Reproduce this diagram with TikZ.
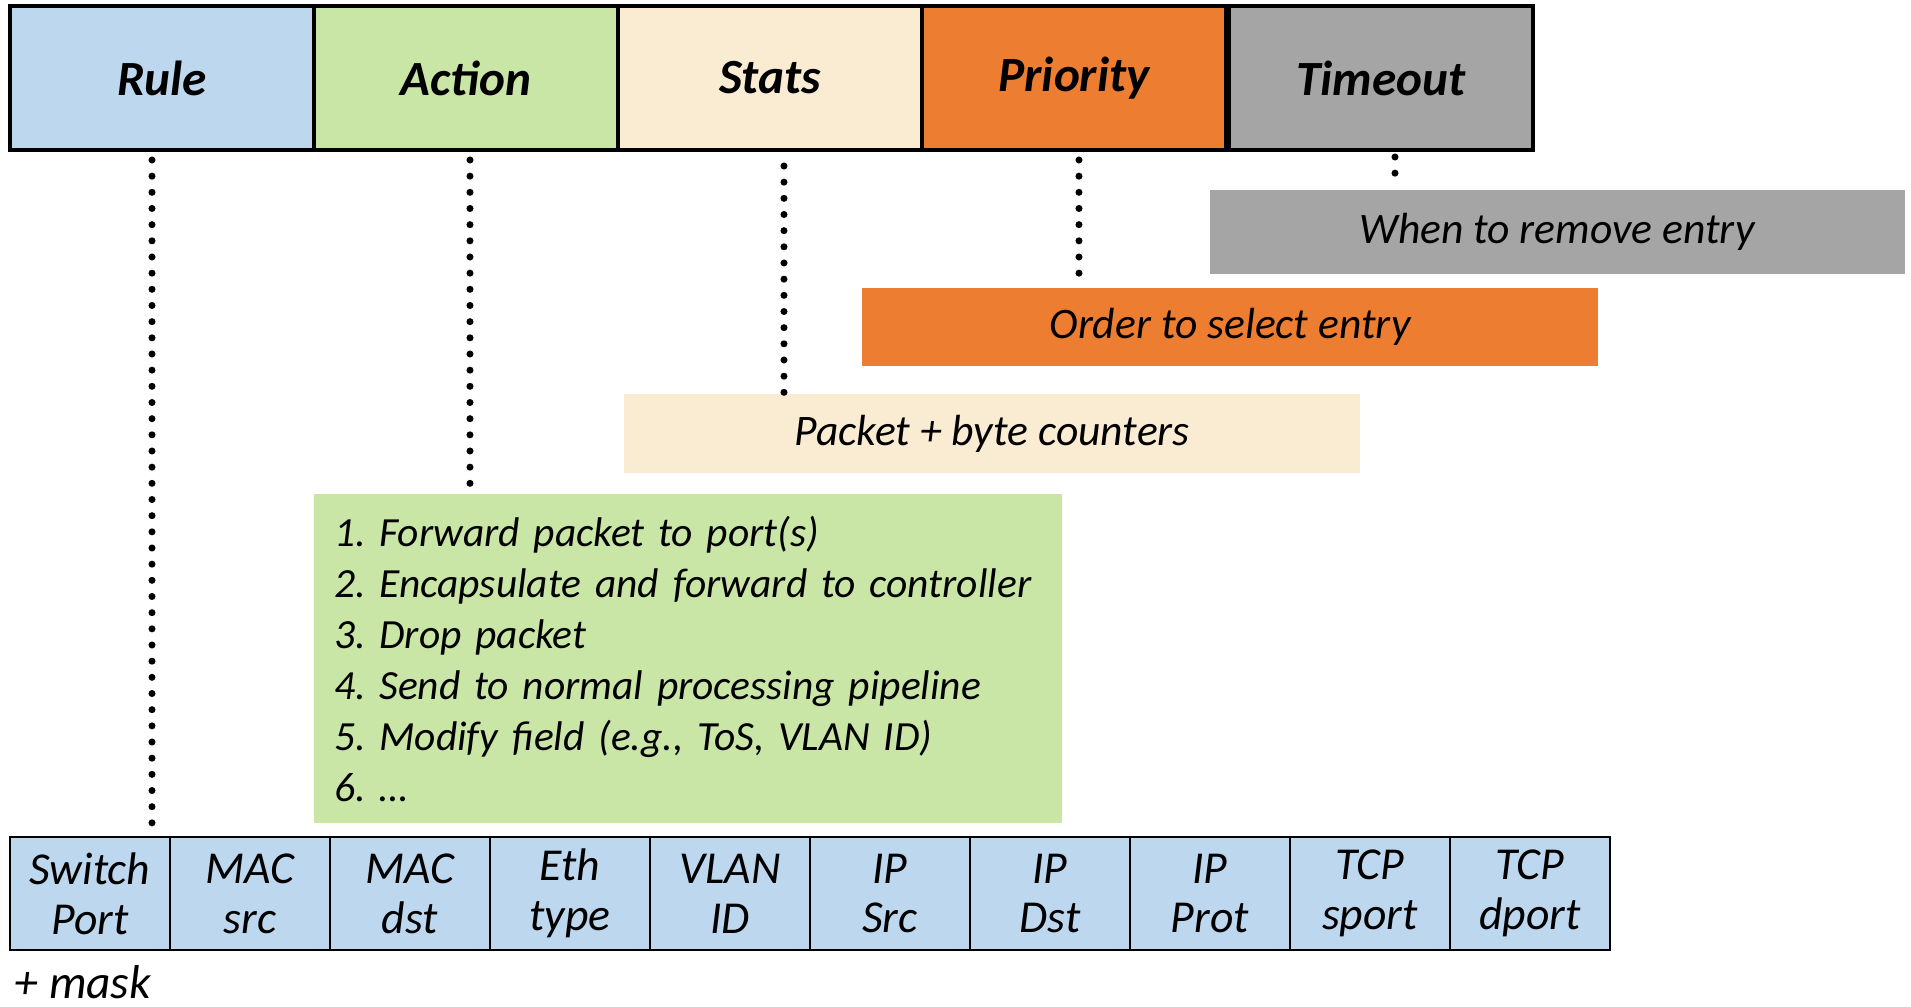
\documentclass[tikz,border=0pt]{standalone}
\usepackage{fontspec}
\setmainfont{Carlito}
\usetikzlibrary{positioning}

\definecolor{ruleblue}{HTML}{BDD7EE}
\definecolor{actgreen}{HTML}{C9E6A7}
\definecolor{statbeige}{HTML}{FAEBD3}
\definecolor{prioorange}{HTML}{ED7D31}
\definecolor{timegray}{HTML}{A5A5A5}

\begin{document}
\frenchspacing
\begin{tikzpicture}[
        x=0.1mm,y=-0.1mm,
        head/.style={rectangle,draw,line width=1pt,outer sep=0pt,minimum width=30.4mm,minimum height=14.4mm,inner sep=0pt,font=\fontsize{14}{17}\selectfont\bfseries\itshape},
        desc/.style={rectangle,inner sep=0pt,font=\fontsize{12.4}{15}\selectfont\itshape},
        field/.style={rectangle,draw,line width=0.8pt,outer sep=0pt,fill=ruleblue,minimum width=16mm,minimum height=11.3mm,inner sep=0pt,align=center,font=\fontsize{13}{14.2}\selectfont\itshape},
        dots/.style={line width=2pt,line cap=round,dash pattern=on 0pt off 4.6pt}
    ]
    \useasboundingbox (0,0) rectangle (1911,1007);

    % flow table entry
    \node[head,fill=ruleblue,anchor=north west] (rule) at (10,6) {Rule};
    \node[head,fill=actgreen,right=0pt of rule] (action) {Action};
    \node[head,fill=statbeige,right=0pt of action] (stats) {Stats};
    \node[head,fill=prioorange,right=0pt of stats] (priority) {Priority};
    \node[head,fill=timegray,right=0.3mm of priority] (timeout) {Timeout};

    % what each part means
    \node[desc,fill=timegray,minimum width=69.5mm,minimum height=8.4mm] (timeoutdesc) at (1557,232) {When to remove entry};
    \node[desc,fill=prioorange,minimum width=73.6mm,minimum height=7.8mm] (prioritydesc) at (1230,327) {Order to select entry};
    \node[desc,fill=statbeige,minimum width=73.6mm,minimum height=7.9mm] (statsdesc) at (992,434) {Packet + byte counters};
    \node[desc,fill=actgreen,inner xsep=2mm,minimum width=74.8mm,minimum height=32.9mm,text width=70.8mm,align=left,
          font=\fontsize{11.8}{14.5}\selectfont\itshape] (actlist) at (688,659) {1. Forward packet to port(s)\\2. Encapsulate and forward to controller\\3. Drop packet\\4. Send to normal processing pipeline\\5. Modify field (e.g., ToS, VLAN ID)\\6. \ldots};

    % header fields matched by the rule
    \node[field,anchor=north west] (swport) at (10,837) {Switch\\Port};
    \node[field,right=0pt of swport] (macsrc) {MAC\\src};
    \node[field,right=0pt of macsrc] (macdst) {MAC\\dst};
    \node[field,right=0pt of macdst] (ethtype) {Eth\\type};
    \node[field,right=0pt of ethtype] (vlanid) {VLAN\\ID};
    \node[field,right=0pt of vlanid] (ipsrc) {IP\\Src};
    \node[field,right=0pt of ipsrc] (ipdst) {IP\\Dst};
    \node[field,right=0pt of ipdst] (ipprot) {IP\\Prot};
    \node[field,right=0pt of ipprot] (tcpsport) {TCP\\sport};
    \node[field,right=0pt of tcpsport] (tcpdport) {TCP\\dport};
    \node[desc,anchor=west,font=\fontsize{13.5}{16}\selectfont\itshape] (mask) at (14,982) {+ mask};

    \draw[dots,shorten <=1mm] ([xshift=-1mm]rule.south) -- ([xshift=-1mm]rule.south |- swport.north);
    \draw[dots,shorten <=1mm] ([xshift=0.4mm]action.south) -- ([xshift=0.4mm]action.south |- actlist.north);
    \draw[dots,shorten <=1.6mm] ([xshift=1.4mm]stats.south) -- ([xshift=1.4mm]stats.south |- statsdesc.north);
    \draw[dots,shorten <=1mm] ([xshift=0.5mm]priority.south) -- ([xshift=0.5mm]priority.south |- prioritydesc.north);
    \draw[dots,shorten <=0.7mm] ([xshift=1.4mm]timeout.south) -- ([xshift=1.4mm]timeout.south |- timeoutdesc.north);
\end{tikzpicture}
\end{document}
